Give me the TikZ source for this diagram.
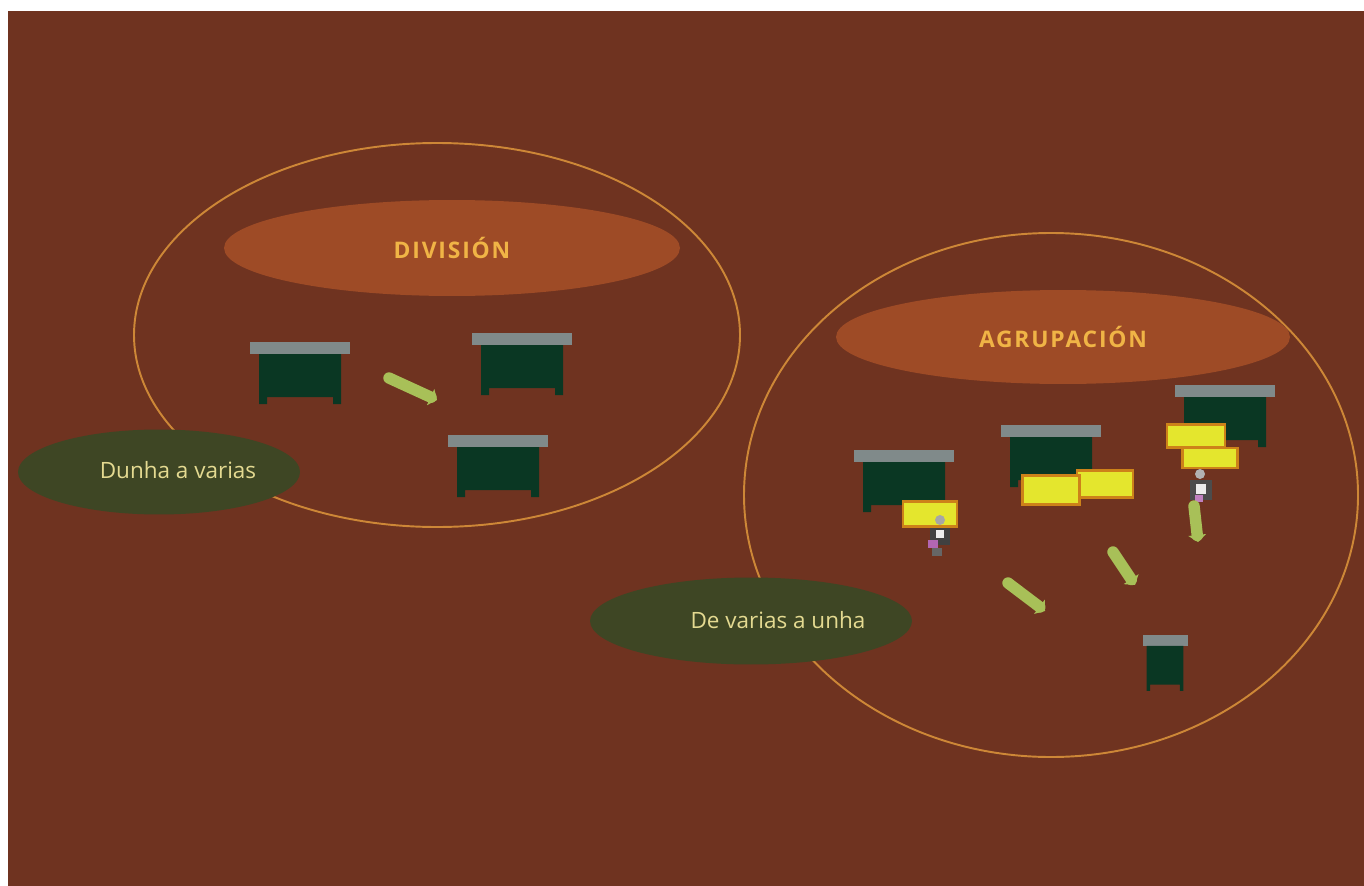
\documentclass[tikz,border=0pt]{standalone}
\usepackage{fontspec}
\setmainfont{Open Sans}
\usetikzlibrary{shapes.geometric,arrows.meta}

\definecolor{ground}{RGB}{111,51,32}
\definecolor{ring}{RGB}{205,135,55}
\definecolor{titlefill}{RGB}{158,75,38}
\definecolor{titletext}{RGB}{240,180,70}
\definecolor{leaf}{RGB}{62,70,36}
\definecolor{leaftext}{RGB}{228,218,145}
\definecolor{lidgray}{RGB}{128,138,138}
\definecolor{binbody}{RGB}{10,55,35}
\definecolor{arrowgreen}{RGB}{168,192,88}
\definecolor{notefill}{RGB}{228,230,45}
\definecolor{noteedge}{RGB}{205,130,25}

\tikzset{
  ringline/.style={draw=ring, line width=1.1pt},
  titleblob/.style={ellipse, fill=titlefill, inner sep=0pt, text=titletext,
    font=\fontsize{13}{15}\selectfont\bfseries\addfontfeatures{LetterSpace=8}},
  leafblob/.style={ellipse, fill=leaf, inner sep=0pt},
  leaflabel/.style={text=leaftext, font=\fontsize{12.8}{15}\selectfont},
  note/.style={draw=noteedge, line width=1.2pt, fill=notefill, inner sep=0pt},
  flow/.style={draw=arrowgreen, line width=6.5pt, line cap=round,
    -{Triangle[length=4pt,width=10pt]}},
  bin/.pic={
    \fill[lidgray] (-50,0) rectangle (50,12);
    \fill[binbody] (-41,12) -- (41,12) -- (41,62) -- (33,62) -- (33,55)
      -- (-33,55) -- (-33,62) -- (-41,62) -- cycle;
  }
}

\begin{document}
\begin{tikzpicture}[x=0.02cm, y=-0.02cm]
  \useasboundingbox (0,0) rectangle (1364,885);
  \fill[white] (0,0) rectangle (1364,885);
  \fill[ground] (8,11) rectangle (1368,889);

  % outer rings of the two groups
  \draw[ringline] (437,335) ellipse [x radius=303, y radius=192];
  \draw[ringline] (1051,495) ellipse [x radius=307, y radius=262];

  % group titles
  \node[titleblob, minimum width=9.12cm, minimum height=1.92cm] (division) at (452,248) {DIVISIÓN};
  \node[titleblob, minimum width=9.08cm, minimum height=1.88cm] (agrupacion) at (1063,337) {AGRUPACIÓN};

  % containers of the first group
  \pic at (300,342) {bin};
  \pic at (522,333) {bin};
  \pic at (498,435) {bin};

  % one into several
  \coordinate (d1) at (389,378);
  \coordinate (d2) at (437,400);
  \draw[flow] (d1) -- (d2);

  % containers of the second group
  \pic at (904,450) {bin};
  \pic at (1051,425) {bin};
  \pic at (1225,385) {bin};
  \pic[xscale=0.45, yscale=0.9] at (1165,635) {bin};

  % tags on the containers
  \node[note, minimum width=1.08cm, minimum height=0.5cm] (t1) at (930,514) {};
  \node[note, minimum width=1.12cm, minimum height=0.54cm] (t3) at (1105,484) {};
  \node[note, minimum width=1.14cm, minimum height=0.58cm] (t2) at (1051,490) {};
  \node[note, minimum width=1.16cm, minimum height=0.46cm] (t4) at (1196,436) {};
  \node[note, minimum width=1.1cm, minimum height=0.4cm] (t5) at (1210,458) {};

  % small figures next to the tags
  \begin{scope}
    \fill[gray!70] (940,520) circle (5);
    \fill[black!75] (930,528) rectangle (950,545);
    \fill[white!85!gray] (936,530) rectangle (944,538);
    \fill[violet!60] (928,540) rectangle (938,548);
    \fill[black!60] (932,548) rectangle (942,556);
  \end{scope}
  \begin{scope}
    \fill[gray!60] (1200,474) circle (5);
    \fill[black!70] (1190,480) rectangle (1212,500);
    \fill[white!85!gray] (1196,484) rectangle (1206,494);
    \fill[violet!50] (1195,495) rectangle (1203,502);
  \end{scope}

  % several into one
  \coordinate (a1) at (1008,583);
  \coordinate (a2) at (1045,611);
  \coordinate (b1) at (1113,552);
  \coordinate (b2) at (1135,585);
  \coordinate (c1) at (1194,506);
  \coordinate (c2) at (1198,542);
  \draw[flow] (a1) -- (a2);
  \draw[flow] (b1) -- (b2);
  \draw[flow] (c1) -- (c2);

  % captions
  \node[leafblob, minimum width=5.64cm, minimum height=1.7cm] (one) at (159,472) {};
  \node[leaflabel] (onelabel) at (178,470) {Dunha a varias};
  \node[leafblob, minimum width=6.44cm, minimum height=1.74cm] (many) at (751,621) {};
  \node[leaflabel] (manylabel) at (778,620) {De varias a unha};
\end{tikzpicture}
\end{document}
